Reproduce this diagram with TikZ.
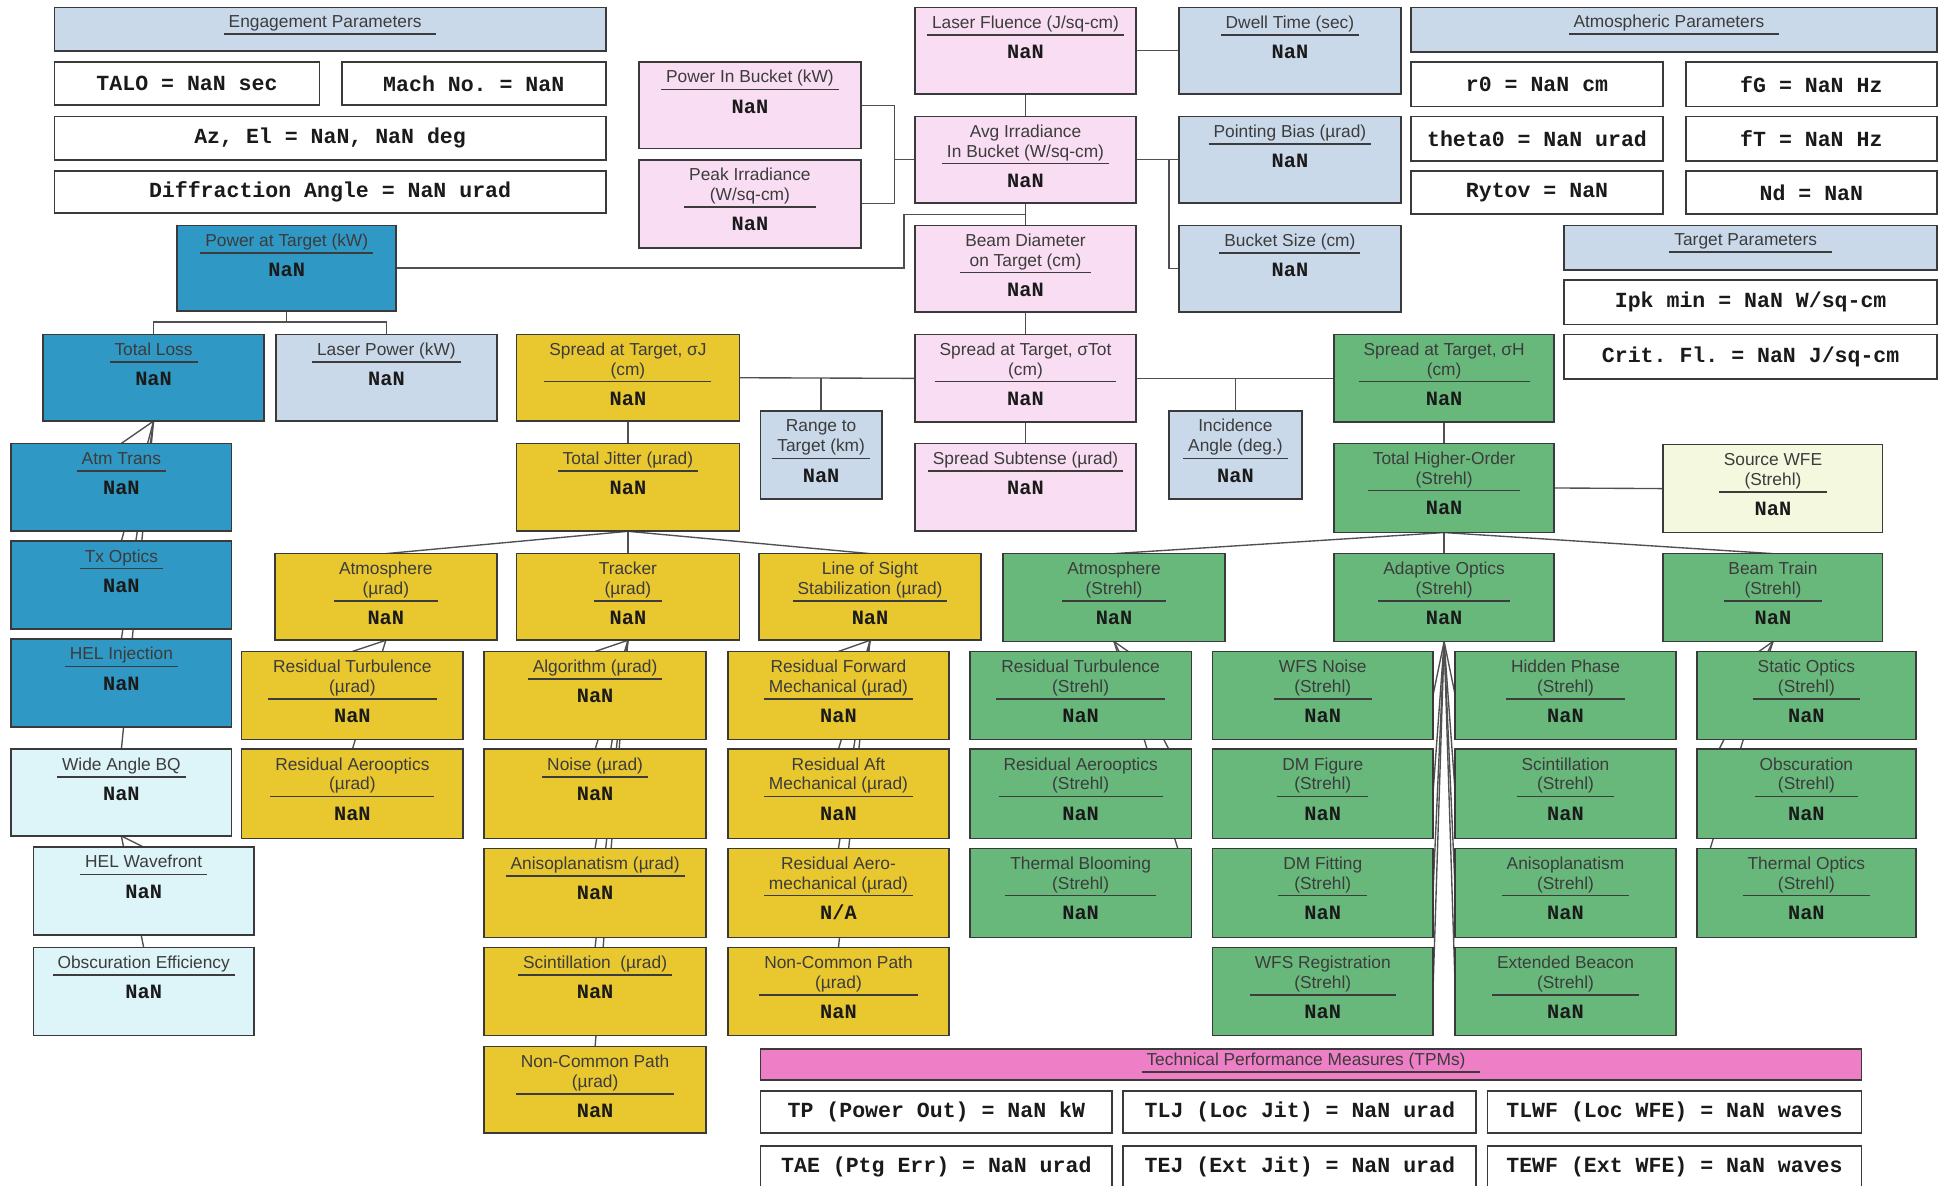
\documentclass[tikz,border=0pt]{standalone}
\usepackage{fontspec}
\setmainfont{Liberation Sans}
\setmonofont{Liberation Mono}
\usetikzlibrary{fit,calc}

\definecolor{boxline}{HTML}{3A3A3A}
\definecolor{linkgray}{HTML}{505050}
\definecolor{txt}{HTML}{3C3C3C}
\definecolor{val}{HTML}{1A1A1A}
\definecolor{cLightBlue}{HTML}{C9D9EA}
\definecolor{cDarkBlue}{HTML}{2F98C4}
\definecolor{cCyan}{HTML}{DDF4F8}
\definecolor{cPink}{HTML}{F9DDF2}
\definecolor{cYellow}{HTML}{E9C72F}
\definecolor{cGreen}{HTML}{68B87C}
\definecolor{cPale}{HTML}{F3F8DE}
\definecolor{cMagenta}{HTML}{EE7EC6}

\pgfdeclarelayer{bg}
\pgfsetlayers{bg,main}

\setlength\arrayrulewidth{0.6pt}

\newcommand\valfont{\color{val}\fontsize{8.2}{9}\selectfont\ttfamily\bfseries}
\newcommand\titleblk[2]{{\color{txt}\fontsize{7}{8}\selectfont
  \begin{tabular}{@{\hspace{2pt}}c@{\hspace{2pt}}}#1\\\hline
  \rule{0pt}{9.3pt}\valfont #2\end{tabular}}}

% metric box: name, style, x1, y1, x2, y2, title, value
\newcommand\metric[8]{%
  \node[#2, fit={(#3,#4) (#5,#6)}] (#1) {};
  \node[anchor=north, inner sep=0pt] at ([yshift=-2.6pt]#1.north) {\titleblk{#7}{#8}};}

% section header: [shift], name, style, x1, y1, x2, y2, title
\newcommand\hdrblock[8][-2.2pt]{%
  \node[#3, fit={(#4,#5) (#6,#7)}] (#2) {};
  \node[anchor=north, inner sep=0pt] at ([yshift=#1]#2.north)
    {{\color{txt}\fontsize{7}{8}\selectfont
      \begin{tabular}{@{\hspace{2pt}}c@{\hspace{6pt}}}#8\\\hline\end{tabular}}};}

% parameter read-out: name, x1, y1, x2, y2, text
\newcommand\prm[6]{%
  \node[pbox, fit={(#2,#3) (#4,#5)}] (#1) {};
  \node[ptext] at (#1.center) {#6};}

\tikzset{
  box/.style={draw=boxline, line width=0.7pt, inner sep=0pt, outer sep=0pt},
  darkblue/.style={box, fill=cDarkBlue},
  lightblue/.style={box, fill=cLightBlue},
  cyanbox/.style={box, fill=cCyan},
  pinkbox/.style={box, fill=cPink},
  yellowbox/.style={box, fill=cYellow},
  greenbox/.style={box, fill=cGreen},
  palebox/.style={box, fill=cPale},
  magentabox/.style={box, fill=cMagenta},
  pbox/.style={box, fill=white},
  ptext/.style={inner sep=0pt, text=val, font=\fontsize{8.7}{10}\selectfont\ttfamily\bfseries},
  link/.style={draw=linkgray, line width=0.55pt},
}

\begin{document}
\begin{tikzpicture}[x=0.5pt, y=-0.5pt]
\useasboundingbox (0,0) rectangle (1568,957);
\begin{pgfonlayer}{bg}
  \fill[white] (0,0) rectangle (1568,957);
\end{pgfonlayer}

% ---------- engagement parameters ----------
\hdrblock{engHdr}{lightblue}{44}{6}{489}{41}{Engagement Parameters}
\prm{talo}{44}{50}{258}{85}{TALO = NaN sec}
\prm{mach}{276}{50}{489}{85}{Mach No. = NaN}
\prm{azel}{44}{94}{489}{129}{Az, El = NaN, NaN deg}
\prm{diff}{44}{138}{489}{172}{Diffraction Angle = NaN urad}

% ---------- atmospheric / target parameters ----------
\hdrblock{atmHdr}{lightblue}{1139}{6}{1564}{42}{Atmospheric Parameters}
\prm{rzero}{1139}{50}{1343}{86}{r0 = NaN cm}
\prm{fg}{1361}{50}{1564}{86}{fG = NaN Hz}
\prm{theta}{1139}{94}{1343}{130}{theta0 = NaN urad}
\prm{ft}{1361}{94}{1564}{130}{fT = NaN Hz}
\prm{rytov}{1139}{138}{1343}{173}{Rytov = NaN}
\prm{nd}{1361}{138}{1564}{173}{Nd = NaN}
\hdrblock{tgtHdr}{lightblue}{1263}{182}{1564}{218}{Target Parameters}
\prm{ipk}{1263}{226}{1564}{262}{Ipk min = NaN W/sq-cm}
\prm{crit}{1263}{270}{1564}{306}{Crit. Fl. = NaN J/sq-cm}

% ---------- power branch ----------
\metric{pat}{darkblue}{143}{182}{320}{251}{Power at Target (kW)}{NaN}
\metric{tl}{darkblue}{35}{270}{213}{340}{Total Loss}{NaN}
\metric{lp}{lightblue}{223}{270}{401}{340}{Laser Power (kW)}{NaN}
\metric{atm}{darkblue}{9}{358}{187}{429}{Atm Trans}{NaN}
\metric{tx}{darkblue}{9}{437}{187}{508}{Tx Optics}{NaN}
\metric{heli}{darkblue}{9}{516}{187}{587}{HEL Injection}{NaN}
\metric{wab}{cyanbox}{9}{605}{187}{675}{Wide Angle BQ}{NaN}
\metric{helw}{cyanbox}{27}{684}{205}{755}{HEL Wavefront}{NaN}
\metric{obe}{cyanbox}{27}{765}{205}{836}{Obscuration Efficiency}{NaN}

% ---------- irradiance / fluence ----------
\metric{pib}{pinkbox}{516}{50}{695}{120}{Power In Bucket (kW)}{NaN}
\metric{pki}{pinkbox}{516}{129}{695}{200}{Peak Irradiance\\(W/sq-cm)}{NaN}
\metric{lf}{pinkbox}{739}{6}{917}{76}{Laser Fluence (J/sq-cm)}{NaN}
\metric{avg}{pinkbox}{739}{94}{917}{164}{Avg Irradiance\\In Bucket (W/sq-cm)}{NaN}
\metric{bd}{pinkbox}{739}{182}{917}{252}{Beam Diameter\\on Target (cm)}{NaN}
\metric{stot}{pinkbox}{739}{270}{917}{341}{Spread at Target, σTot\\(cm)}{NaN}
\metric{ssub}{pinkbox}{739}{358}{917}{429}{Spread Subtense (µrad)}{NaN}
\metric{dwell}{lightblue}{952}{6}{1131}{76}{Dwell Time (sec)}{NaN}
\metric{pbias}{lightblue}{952}{94}{1131}{164}{Pointing Bias (µrad)}{NaN}
\metric{bsize}{lightblue}{952}{182}{1131}{252}{Bucket Size (cm)}{NaN}
\metric{range}{lightblue}{614}{332}{712}{403}{Range to\\Target (km)}{NaN}
\metric{inc}{lightblue}{944}{332}{1051}{403}{Incidence\\Angle (deg.)}{NaN}

% ---------- jitter branch ----------
\metric{sj}{yellowbox}{417}{270}{597}{340}{Spread at Target, σJ\\(cm)}{NaN}
\metric{tj}{yellowbox}{417}{358}{597}{429}{Total Jitter (µrad)}{NaN}
\metric{atmu}{yellowbox}{222}{447}{401}{517}{Atmosphere\\(µrad)}{NaN}
\metric{trk}{yellowbox}{417}{447}{597}{517}{Tracker\\(µrad)}{NaN}
\metric{los}{yellowbox}{613}{447}{792}{517}{Line of Sight\\Stabilization (µrad)}{NaN}
\metric{rtu}{yellowbox}{195}{526}{374}{597}{Residual Turbulence\\(µrad)}{NaN}
\metric{rau}{yellowbox}{195}{605}{374}{677}{Residual Aerooptics\\(µrad)}{NaN}
\metric{alg}{yellowbox}{391}{526}{570}{597}{Algorithm (µrad)}{NaN}
\metric{noi}{yellowbox}{391}{605}{570}{677}{Noise (µrad)}{NaN}
\metric{anu}{yellowbox}{391}{685}{570}{757}{Anisoplanatism (µrad)}{NaN}
\metric{scu}{yellowbox}{391}{765}{570}{836}{Scintillation~ (µrad)}{NaN}
\metric{ncl}{yellowbox}{391}{845}{570}{915}{Non-Common Path\\(µrad)}{NaN}
\metric{rfm}{yellowbox}{588}{526}{766}{597}{Residual Forward\\Mechanical (µrad)}{NaN}
\metric{ram}{yellowbox}{588}{605}{766}{677}{Residual Aft\\Mechanical (µrad)}{NaN}
\metric{rame}{yellowbox}{588}{685}{766}{757}{Residual Aero-\\mechanical (µrad)}{N/A}
\metric{ncr}{yellowbox}{588}{765}{766}{836}{Non-Common Path\\(µrad)}{NaN}

% ---------- higher-order branch ----------
\metric{sh}{greenbox}{1077}{270}{1255}{341}{Spread at Target, σH\\(cm)}{NaN}
\metric{tho}{greenbox}{1077}{358}{1255}{430}{Total Higher-Order\\(Strehl)}{NaN}
\metric{swfe}{palebox}{1343}{359}{1520}{430}{Source WFE\\(Strehl)}{NaN}
\metric{atms}{greenbox}{810}{447}{989}{518}{Atmosphere\\(Strehl)}{NaN}
\metric{ao}{greenbox}{1077}{447}{1255}{518}{Adaptive Optics\\(Strehl)}{NaN}
\metric{bt}{greenbox}{1343}{447}{1520}{518}{Beam Train\\(Strehl)}{NaN}
\metric{rts}{greenbox}{783}{526}{962}{597}{Residual Turbulence\\(Strehl)}{NaN}
\metric{ras}{greenbox}{783}{605}{962}{677}{Residual Aerooptics\\(Strehl)}{NaN}
\metric{tbl}{greenbox}{783}{685}{962}{757}{Thermal Blooming\\(Strehl)}{NaN}
\metric{wfsn}{greenbox}{979}{526}{1157}{597}{WFS Noise\\(Strehl)}{NaN}
\metric{dmfig}{greenbox}{979}{605}{1157}{677}{DM Figure\\(Strehl)}{NaN}
\metric{dmfit}{greenbox}{979}{685}{1157}{757}{DM Fitting\\(Strehl)}{NaN}
\metric{wfsr}{greenbox}{979}{765}{1157}{836}{WFS Registration\\(Strehl)}{NaN}
\metric{hph}{greenbox}{1175}{526}{1353}{597}{Hidden Phase\\(Strehl)}{NaN}
\metric{scs}{greenbox}{1175}{605}{1353}{677}{Scintillation\\(Strehl)}{NaN}
\metric{ans}{greenbox}{1175}{685}{1353}{757}{Anisoplanatism\\(Strehl)}{NaN}
\metric{extb}{greenbox}{1175}{765}{1353}{836}{Extended Beacon\\(Strehl)}{NaN}
\metric{sto}{greenbox}{1370}{526}{1547}{597}{Static Optics\\(Strehl)}{NaN}
\metric{obs}{greenbox}{1370}{605}{1547}{677}{Obscuration\\(Strehl)}{NaN}
\metric{tho2}{greenbox}{1370}{685}{1547}{757}{Thermal Optics\\(Strehl)}{NaN}

% ---------- technical performance measures ----------
\hdrblock[-0.8pt]{tpmHdr}{magentabox}{614}{847}{1503}{872}{Technical Performance Measures (TPMs)}
\prm{tp}{614}{881}{898}{915}{TP (Power Out) = NaN kW}
\prm{tlj}{907}{881}{1192}{915}{TLJ (Loc Jit) = NaN urad}
\prm{tlwf}{1201}{881}{1503}{915}{TLWF (Loc WFE) = NaN waves}
\prm{tae}{614}{925}{898}{959}{TAE (Ptg Err) = NaN urad}
\prm{tej}{907}{925}{1192}{959}{TEJ (Ext Jit) = NaN urad}
\prm{tewf}{1201}{925}{1503}{959}{TEWF (Ext WFE) = NaN waves}

% ---------- connectors (behind the boxes) ----------
\begin{pgfonlayer}{bg}
  % fluence / irradiance cluster
  \draw[link] (lf.east) -- (dwell.west);
  \draw[link] (lf.south) -- (avg.north);
  \draw[link] (pib.east) -- ++(27,0) coordinate (jb) |- (pki.east);
  \draw[link] (jb |- avg.west) -- (avg.west);
  \draw[link] (avg.east) -- (pbias.west);
  \coordinate (jp) at ($(pbias.west)+(-8,0)$);
  \draw[link] (jp) |- (bsize.west);
  \draw[link] (avg.south) -- (bd.north);
  \coordinate (jd) at ($(avg.south)!0.5!(bd.north)$);
  \draw[link] (pat.east) -| ([xshift=-49pt]jd) -- (jd);
  \draw[link] (bd.south) -- (stot.north);
  % spread at target
  \draw[link] (sj.east) -- (stot.west);
  \draw[link] (stot.east) -- (sh.west);
  \draw[link] (range.north) -- (range.north |- stot.west);
  \draw[link] (inc.north) -- (inc.north |- stot.east);
  \draw[link] (stot.south) -- (ssub.north);
  \draw[link] (sj.south) -- (tj.north);
  \draw[link] (sh.south) -- (tho.north);
  \draw[link] (tho.east) -- (swfe.west);
  % power tree
  \draw[link] (pat.south) -- ++(0,9) -| (tl.north);
  \draw[link] (pat.south) -- ++(0,9) -| (lp.north);
  \foreach \c in {atm,tx,heli,wab} \draw[link] (tl.south) -- (\c.north);
  \foreach \c in {helw,obe} \draw[link] (wab.south) -- (\c.north);
  % jitter tree
  \foreach \c in {atmu,trk,los} \draw[link] (tj.south) -- (\c.north);
  \foreach \c in {rtu,rau} \draw[link] (atmu.south) -- (\c.north);
  \foreach \c in {alg,noi,anu,scu,ncl} \draw[link] (trk.south) -- (\c.north);
  \foreach \c in {rfm,ram,rame,ncr} \draw[link] (los.south) -- (\c.north);
  % higher-order tree
  \foreach \c in {atms,ao,bt} \draw[link] (tho.south) -- (\c.north);
  \foreach \c in {rts,ras,tbl} \draw[link] (atms.south) -- (\c.east);
  \foreach \c in {wfsn,dmfig,dmfit,wfsr} \draw[link] (ao.south) -- (\c.east);
  \foreach \c in {hph,scs,ans,extb} \draw[link] (ao.south) -- (\c.west);
  \foreach \c in {sto,obs,tho2} \draw[link] (bt.south) -- (\c.west);
\end{pgfonlayer}
\end{tikzpicture}
\end{document}
